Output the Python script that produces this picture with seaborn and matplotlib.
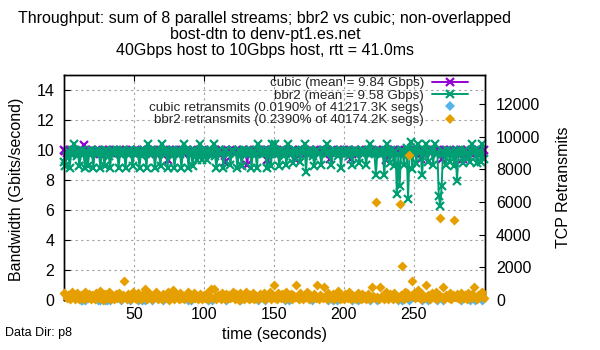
import matplotlib
matplotlib.use("Agg")
import matplotlib.pyplot as plt
from matplotlib.lines import Line2D
import numpy as np
import pandas as pd
import seaborn as sns

# ---------------- data ----------------
time_s = list(range(0, 301))

bbr2_gbps = [
    9.2, 8.9, 9.6, 9.9, 8.8, 9.7, 10.0, 10.4, 9.8, 9.6,
    9.9, 8.9, 9.8, 10.0, 9.7, 8.8, 9.9, 8.9, 9.7, 10.0,
    9.8, 8.8, 9.9, 9.7, 10.0, 9.8, 8.8, 9.9, 9.7, 8.9,
    10.0, 9.8, 9.6, 8.8, 9.9, 10.0, 9.7, 9.8, 10.0, 8.8,
    9.7, 9.9, 10.0, 9.8, 8.8, 9.9, 9.7, 10.0, 9.8, 8.9,
    9.9, 9.7, 10.0, 9.8, 8.8, 9.9, 9.6, 10.0, 9.8, 8.8,
    10.4, 9.8, 10.0, 9.7, 9.9, 8.8, 9.8, 10.0, 9.7, 8.9,
    10.4, 9.9, 9.7, 10.0, 8.8, 9.8, 9.9, 9.6, 10.0, 8.8,
    9.8, 9.9, 10.0, 9.7, 8.8, 9.9, 10.4, 9.8, 10.0, 8.8,
    9.9, 9.7, 8.9, 10.0, 9.8, 9.3, 9.9, 10.4, 9.7, 9.3,
    10.0, 9.8, 9.3, 9.9, 9.7, 10.0, 9.8, 10.4, 9.6, 8.8,
    9.9, 10.0, 9.7, 9.8, 8.8, 9.9, 10.0, 9.7, 9.8, 9.0,
    10.0, 9.9, 9.7, 9.8, 8.8, 10.0, 9.9, 8.9, 9.7, 10.0,
    9.8, 9.9, 9.7, 10.0, 8.8, 9.8, 9.9, 9.7, 8.8, 10.4,
    9.8, 10.0, 9.7, 9.9, 9.8, 8.8, 10.0, 9.7, 8.9, 10.4,
    9.8, 10.4, 9.9, 9.7, 8.9, 10.0, 9.8, 9.6, 9.9, 9.0,
    10.4, 9.8, 9.9, 9.7, 9.1, 10.0, 9.8, 9.9, 9.7, 9.2,
    10.0, 9.8, 10.4, 8.5, 9.9, 9.7, 10.0, 9.8, 9.6, 8.9,
    9.9, 10.0, 9.7, 9.8, 9.0, 9.9, 10.0, 9.7, 10.4, 9.8,
    9.9, 9.0, 9.7, 10.0, 9.8, 9.9, 9.6, 10.0, 8.8, 9.8,
    9.9, 9.7, 10.0, 9.8, 9.6, 9.9, 9.0, 9.8, 10.0, 9.7,
    9.9, 9.1, 9.8, 10.0, 9.7, 9.9, 9.0, 9.8, 10.0, 10.4,
    9.8, 9.9, 9.7, 8.3, 9.8, 10.0, 9.7, 9.9, 9.8, 8.3,
    9.9, 10.4, 9.7, 9.1, 10.0, 9.8, 8.9, 9.9, 7.1, 9.7,
    7.6, 9.9, 10.0, 9.0, 9.8, 10.1, 6.7, 9.8, 10.5, 8.7,
    9.9, 10.0, 9.1, 10.4, 9.8, 9.9, 8.3, 9.7, 10.0, 10.4,
    9.2, 9.9, 9.8, 10.0, 9.0, 10.4, 9.8, 9.7, 6.9, 6.3,
    7.6, 9.9, 9.8, 9.0, 10.0, 9.7, 9.2, 9.9, 9.8, 8.9,
    9.9, 7.9, 9.8, 10.0, 9.7, 9.1, 9.9, 10.0, 9.8, 9.6,
    9.2, 9.9, 10.4, 9.8, 10.0, 9.1, 9.7, 9.9, 9.2, 10.4,
    9.4,
]

cubic_gbps = [
    10.0, 9.9, 9.8, 9.9, 10.0, 9.9, 9.8, 10.0, 9.9, 9.8,
    9.9, 10.0, 9.9, 9.8, 10.3, 9.9, 10.0, 9.9, 9.8, 9.9,
    10.0, 9.9, 9.8, 9.9, 10.0, 9.9, 9.7, 9.9, 10.0, 9.9,
    9.8, 9.9, 10.0, 9.9, 9.8, 9.9, 10.0, 9.9, 9.8, 9.9,
    10.0, 9.9, 9.8, 9.9, 10.0, 9.9, 9.7, 9.9, 10.0, 9.9,
    9.8, 9.9, 10.0, 9.9, 9.8, 9.9, 10.0, 9.9, 9.8, 9.9,
    10.0, 9.9, 9.8, 9.9, 10.0, 9.9, 9.7, 9.9, 10.0, 9.9,
    9.8, 9.9, 10.0, 9.9, 9.3, 9.9, 10.0, 9.9, 9.8, 9.9,
    10.0, 9.9, 9.8, 9.9, 10.0, 9.9, 9.7, 9.9, 10.0, 9.9,
    9.8, 9.9, 10.0, 9.9, 9.8, 9.9, 10.0, 9.9, 9.8, 9.9,
    10.0, 9.9, 9.8, 9.9, 10.0, 9.9, 9.7, 9.9, 10.0, 9.9,
    9.8, 9.9, 10.0, 9.9, 9.8, 9.2, 10.0, 9.9, 9.8, 9.9,
    10.0, 9.9, 9.8, 9.9, 10.0, 9.9, 9.7, 9.9, 10.0, 9.9,
    9.8, 9.0, 10.0, 9.9, 9.8, 9.9, 10.0, 9.9, 9.8, 9.9,
    10.0, 9.9, 9.8, 9.9, 10.0, 9.3, 9.7, 9.9, 10.0, 9.9,
    9.8, 9.9, 10.0, 9.9, 9.8, 9.9, 10.0, 9.9, 9.8, 9.9,
    10.0, 9.9, 9.8, 9.9, 10.0, 9.4, 9.7, 9.9, 10.0, 9.9,
    9.8, 9.9, 10.0, 9.9, 9.8, 9.9, 10.0, 9.9, 9.8, 9.9,
    10.0, 9.9, 9.8, 9.9, 10.0, 9.9, 9.7, 9.9, 10.0, 9.9,
    9.4, 9.9, 10.0, 9.9, 9.8, 9.9, 10.0, 9.9, 9.8, 9.9,
    10.0, 9.9, 9.8, 9.9, 10.0, 9.4, 9.7, 9.9, 10.0, 9.9,
    9.8, 9.9, 10.0, 9.9, 9.8, 9.9, 10.0, 9.9, 9.8, 9.9,
    10.0, 9.9, 9.8, 9.9, 10.0, 9.9, 9.7, 9.9, 10.0, 9.9,
    9.3, 9.9, 10.0, 9.9, 9.8, 9.9, 10.0, 9.9, 9.8, 9.9,
    10.0, 9.9, 9.8, 9.9, 10.0, 9.9, 9.7, 9.9, 10.0, 9.9,
    9.8, 9.9, 10.0, 9.9, 9.8, 9.4, 10.0, 9.9, 9.8, 9.9,
    10.0, 9.9, 9.8, 9.9, 10.0, 9.9, 9.7, 9.9, 10.0, 9.9,
    9.4, 9.9, 10.0, 9.9, 9.8, 9.9, 10.0, 9.9, 9.8, 9.9,
    10.0, 9.9, 9.8, 9.9, 10.0, 9.4, 9.7, 9.9, 10.0, 9.9,
    9.8, 9.9, 10.0, 9.9, 9.8, 9.9, 10.0, 9.9, 9.8, 9.9,
    10.0,
]

bbr2_retrans = [
    450, 380, 120, 300, 60, 250, 520, 180, 90, 410,
    200, 60, 330, 150, 40, 480, 260, 120, 370, 90,
    310, 180, 60, 420, 240, 100, 550, 160, 30, 380,
    260, 140, 490, 80, 300, 200, 60, 350, 120, 430,
    180, 60, 280, 1150, 150, 40, 360, 220, 90, 500,
    300, 130, 50, 420, 210, 80, 330, 160, 700, 60,
    250, 400, 110, 40, 300, 180, 480, 90, 260, 140,
    60, 370, 220, 100, 460, 30, 290, 170, 600, 80,
    350, 200, 60, 420, 150, 250, 90, 330, 180, 520,
    60, 280, 140, 400, 100, 240, 50, 360, 190, 80,
    300, 150, 420, 60, 250, 680, 110, 700, 200, 40,
    330, 170, 90, 450, 260, 60, 380, 140, 300, 100,
    220, 480, 70, 340, 180, 30, 400, 150, 260, 90,
    520, 200, 60, 310, 140, 420, 80, 260, 180, 50,
    360, 240, 100, 440, 60, 300, 170, 520, 90, 280,
    920, 150, 60, 400, 230, 100, 350, 180, 60, 470,
    260, 120, 380, 70, 300, 200, 920, 140, 60, 420,
    250, 90, 330, 160, 480, 60, 280, 200, 100, 360,
    150, 920, 60, 300, 220, 100, 800, 170, 60, 420,
    260, 120, 350, 80, 300, 180, 560, 90, 260, 140,
    60, 380, 210, 100, 470, 60, 300, 160, 250, 90,
    420, 200, 60, 340, 150, 260, 80, 380, 190, 60,
    800, 270, 130, 6000, 210, 60, 820, 160, 300, 90,
    480, 200, 60, 360, 170, 90, 440, 250, 120, 60,
    5880, 300, 2080, 90, 520, 400, 180, 8880, 260, 1150,
    420, 100, 300, 640, 200, 60, 380, 250, 120, 920,
    300, 180, 60, 400, 260, 140, 500, 90, 300, 5020,
    160, 800, 60, 330, 240, 120, 420, 70, 280, 4900,
    200, 380, 120, 60, 450, 260, 150, 300, 90, 400,
    250, 120, 360, 820, 180, 60, 300, 200, 420, 520,
    100,
]

cubic_retrans_t = [12, 13, 15, 24, 26, 29, 31, 33, 41, 47, 53, 56, 58, 63,
                   71, 89, 91, 103, 106, 116, 126, 139, 144, 158, 161, 177,
                   189, 192, 195, 206, 210, 219, 224, 239, 242, 247, 256,
                   260, 267, 271, 284, 290, 294, 299]
cubic_retrans = [20, 10, 30, 10, 20, 0, 30, 10, 20, 10, 0, 30, 10, 20,
                 10, 0, 20, 10, 30, 10, 0, 20, 10, 30, 10, 20,
                 0, 10, 20, 10, 30, 0, 10, 20, 10, 0, 20,
                 10, 30, 0, 10, 20, 0, 10]

labels = ["cubic (mean = 9.84 Gbps)",
          "bbr2 (mean = 9.58 Gbps)",
          "cubic retransmits (0.0190% of 41217.3K segs)",
          "bbr2 retransmits (0.2390% of 40174.2K segs)"]
title_lines = ["Throughput: sum of 8 parallel streams; bbr2 vs cubic; non-overlapped",
               "bost-dtn to denv-pt1.es.net",
               "40Gbps host to 10Gbps host, rtt = 41.0ms"]

C_CUBIC = "#9400d3"
C_BBR2 = "#009e73"
C_CRET = "#56b4e9"
C_BRET = "#e69f00"

# ---------------- style ----------------
sns.set_theme(style="white")
plt.rcParams["font.family"] = ["Liberation Sans", "DejaVu Sans"]
plt.rcParams["axes.linewidth"] = 1.0

FS = 11.5
fig = plt.figure(figsize=(6, 3.5), dpi=100)
ax = fig.add_axes([64 / 600, 1 - 300 / 350, (485 - 64) / 600, (300 - 75) / 350])

df_c = pd.DataFrame({"t": time_s, "v": cubic_gbps})
df_b = pd.DataFrame({"t": time_s, "v": bbr2_gbps})

line_kw = dict(marker="x", markersize=6, markeredgewidth=1.6, linewidth=1.4,
               clip_on=False, estimator=None, zorder=3)
sns.lineplot(data=df_c, x="t", y="v", ax=ax, color=C_CUBIC, markeredgecolor=C_CUBIC, **line_kw)
sns.lineplot(data=df_b, x="t", y="v", ax=ax, color=C_BBR2, markeredgecolor=C_BBR2, **line_kw)

ax.set_xlim(0, 301)
ax.set_ylim(0, 15)
ax.set_xticks([50, 100, 150, 200, 250])
ax.set_yticks([0, 2, 4, 6, 8, 10, 12, 14])
ax.grid(True, linestyle=(0, (2, 3)), color="#a0a0a0", linewidth=0.8)
ax.set_axisbelow(True)
for s in ax.spines.values():
    s.set_color("black")
    s.set_linewidth(1.0)
ax.tick_params(axis="both", direction="in", length=4.5, width=0.8, color="black",
               labelsize=FS, labelcolor="black")
ax.tick_params(axis="x", top=True, bottom=True, pad=5)
ax.tick_params(axis="y", left=True, right=True, pad=7)
ax.set_xlabel("")
ax.set_ylabel("")

ax2 = ax.twinx()
df_cr = pd.DataFrame({"t": cubic_retrans_t, "v": cubic_retrans})
df_br = pd.DataFrame({"t": time_s, "v": bbr2_retrans})
sns.scatterplot(data=df_cr, x="t", y="v", ax=ax2, color=C_CRET, marker="D", s=26,
                linewidth=0, clip_on=False, zorder=4)
sns.scatterplot(data=df_br, x="t", y="v", ax=ax2, color=C_BRET, marker="D", s=26,
                linewidth=0, clip_on=False, zorder=5)
ax2.set_ylim(0, 13776)
ax2.set_yticks([0, 2000, 4000, 6000, 8000, 10000, 12000])
ax2.tick_params(axis="y", direction="in", length=4.5, width=0.8, color="black",
                labelsize=FS, labelcolor="black", pad=8)
ax2.set_ylabel("")
ax2.grid(False)
for s in ax2.spines.values():
    s.set_color("black")
    s.set_linewidth(1.0)

fig.text(275 / 600, 1 - 335 / 350, "time (seconds)", ha="center", va="center",
         fontsize=FS, color="black")
fig.text(17 / 600, 1 - 189 / 350, "Bandwidth (Gbits/second)", rotation=90,
         ha="center", va="center", fontsize=FS, color="black")
fig.text(563 / 600, 1 - 187 / 350, "TCP Retransmits", rotation=90,
         ha="center", va="center", fontsize=FS, color="black")

for line, yy in zip(title_lines, [18, 35, 51]):
    fig.text(265 / 600, 1 - yy / 350, line, ha="center", va="center",
             fontsize=FS, color="black")

fig.text(5 / 600, 1 - 333 / 350, "Data Dir: p8", ha="left", va="center",
         fontsize=9, color="black")

handles = [
    Line2D([], [], color=C_CUBIC, marker="x", markersize=6, markeredgewidth=1.6, linewidth=1.4),
    Line2D([], [], color=C_BBR2, marker="x", markersize=6, markeredgewidth=1.6, linewidth=1.4),
    Line2D([], [], color=C_CRET, marker="D", markersize=5, linestyle="none", markeredgewidth=0),
    Line2D([], [], color=C_BRET, marker="D", markersize=5, linestyle="none", markeredgewidth=0),
]
leg = ax2.legend(handles, labels, loc="upper right", markerfirst=False, frameon=False,
                 fontsize=9.6, handlelength=2.7, handletextpad=0.6, labelspacing=0.0,
                 borderpad=0, borderaxespad=0, numpoints=1,
                 bbox_to_anchor=(468 / 600, 1 - 77 / 350), bbox_transform=fig.transFigure)
leg.set_zorder(10)

fig.savefig("out.png", dpi=100)
